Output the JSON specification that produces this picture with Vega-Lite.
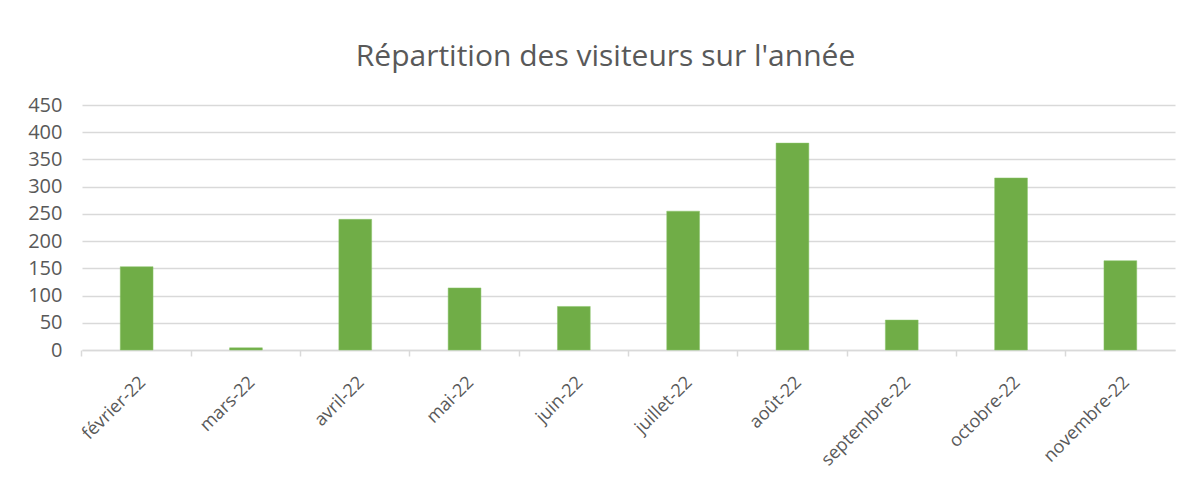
{
  "$schema": "https://vega.github.io/schema/vega-lite/v6.json",
  "autosize": {"type": "none"},
  "width": 1093,
  "height": 245,
  "padding": {"left": 82, "top": 105, "right": 16, "bottom": 138},
  "background": "white",
  "title": {
    "text": "Répartition des visiteurs sur l'année",
    "font": "Open Sans",
    "fontSize": 30,
    "fontWeight": "normal",
    "color": "#595959",
    "anchor": "middle",
    "dx": -23,
    "offset": 23
  },
  "data": {
    "values": [
      {"mois": "février-22", "visiteurs": 153},
      {"mois": "mars-22", "visiteurs": 4},
      {"mois": "avril-22", "visiteurs": 240},
      {"mois": "mai-22", "visiteurs": 114},
      {"mois": "juin-22", "visiteurs": 80},
      {"mois": "juillet-22", "visiteurs": 255},
      {"mois": "août-22", "visiteurs": 380},
      {"mois": "septembre-22", "visiteurs": 55},
      {"mois": "octobre-22", "visiteurs": 316},
      {"mois": "novembre-22", "visiteurs": 164}
    ]
  },
  "mark": {"type": "bar", "color": "#70AD47", "stroke": "#8BC46A", "strokeWidth": 0.5},
  "encoding": {
    "x": {
      "field": "mois",
      "type": "nominal",
      "sort": null,
      "scale": {"paddingInner": 0.7, "paddingOuter": 0.35},
      "axis": {
        "title": null,
        "labelAngle": -45,
        "labelFont": "Open Sans",
        "labelFontSize": 18,
        "labelColor": "#595959",
        "labelPadding": 17,
        "domainColor": "#D9D9D9",
        "domainWidth": 1.5,
        "tickColor": "#D9D9D9",
        "tickWidth": 1.5,
        "tickSize": 6,
        "bandPosition": -1.1667,
        "grid": false
      }
    },
    "y": {
      "field": "visiteurs",
      "type": "quantitative",
      "scale": {"domain": [0, 450]},
      "axis": {
        "title": null,
        "values": [0, 50, 100, 150, 200, 250, 300, 350, 400, 450],
        "labelFont": "Open Sans",
        "labelFontSize": 20,
        "labelColor": "#595959",
        "labelPadding": 20,
        "domain": false,
        "ticks": false,
        "gridColor": "#D9D9D9",
        "gridWidth": 1.5
      }
    }
  },
  "config": {"view": {"stroke": null}}
}
